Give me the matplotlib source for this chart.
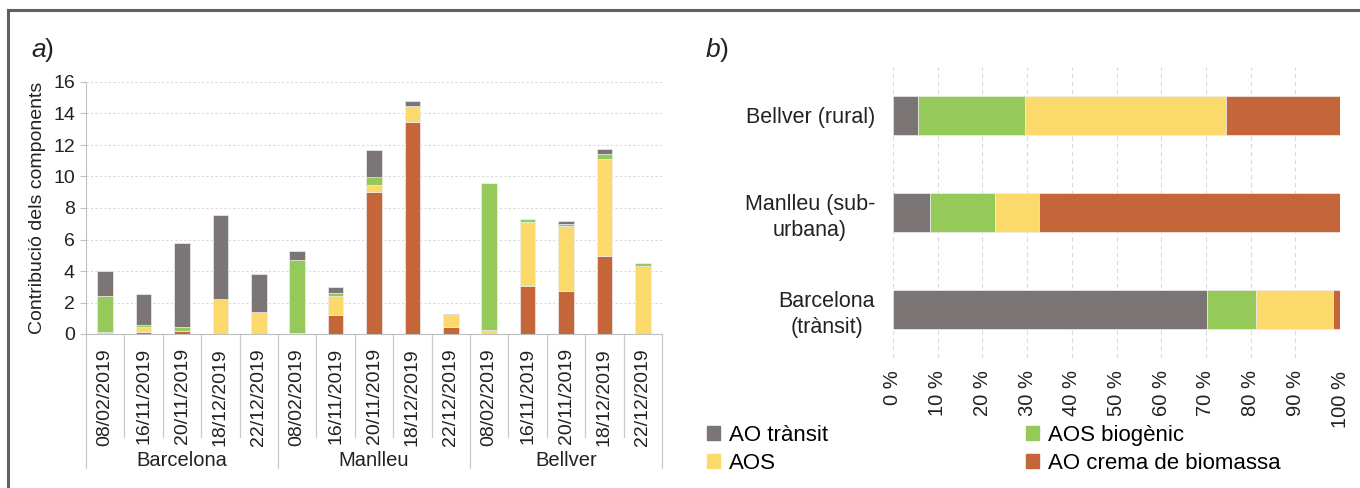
import matplotlib
matplotlib.use("Agg")
import matplotlib.pyplot as plt
from matplotlib.lines import Line2D
from matplotlib.patches import Patch
import numpy as np

plt.rcParams['font.family'] = ['Liberation Sans', 'DejaVu Sans']

# ---- data: panel a (contribution per sample day) ----
sites = ['Barcelona', 'Manlleu', 'Bellver']
dates = ['08/02/2019', '16/11/2019', '20/11/2019', '18/12/2019', '22/12/2019']

ao_crema = [0.00, 0.10, 0.20, 0.00, 0.00,
            0.08, 1.21, 9.00, 13.44, 0.42,
            0.00, 3.06, 2.70, 4.97, 0.03]
aos = [0.12, 0.37, 0.02, 2.25, 1.38,
       0.00, 1.21, 0.47, 1.04, 0.79,
       0.25, 4.07, 4.14, 6.16, 4.30]
aos_biogenic = [2.30, 0.10, 0.20, 0.00, 0.00,
                4.59, 0.17, 0.53, 0.00, 0.00,
                9.35, 0.15, 0.16, 0.27, 0.17]
ao_transit = [1.61, 2.00, 5.35, 5.33, 2.44,
              0.60, 0.38, 1.68, 0.34, 0.04,
              0.00, 0.00, 0.20, 0.32, 0.00]

# ---- data: panel b (mean share per site, %) ----
site_labels_b = ['Barcelona\n(trànsit)', 'Manlleu (sub-\nurbana)', 'Bellver (rural)']
transit_pct = [70.3, 8.3, 5.6]
biogenic_pct = [10.9, 14.6, 23.9]
aos_pct = [17.3, 9.8, 44.9]
crema_pct = [1.5, 67.3, 25.6]

legend_labels = ['AO trànsit', 'AOS', 'AOS biogènic', 'AO crema de biomassa']
c_transit = '#7B7575'
c_biog = '#95C95A'
c_aos = '#FCD96B'
c_crema = '#C5653A'

W, H = 1360, 488
fig = plt.figure(figsize=(W / 100, H / 100), dpi=100)

# outer frame (top and left edges)
fig.add_artist(Line2D([8 / W, 1], [1 - 10 / H, 1 - 10 / H], color='#606060', lw=2.2))
fig.add_artist(Line2D([8 / W, 8 / W], [0, 1 - 10 / H], color='#606060', lw=2.2))

# ================= panel a =================
axl = fig.add_axes([86 / W, 1 - 334 / H, 576 / W, 252 / H])
n = len(ao_crema)
x = np.arange(n)
bw = 0.41
edge = dict(edgecolor='#EDEDED', linewidth=0.5)
bottom = np.zeros(n)
for vals, col in [(ao_crema, c_crema), (aos, c_aos), (aos_biogenic, c_biog), (ao_transit, c_transit)]:
    v = np.array(vals)
    axl.bar(x, v, bw, bottom=bottom, color=col, **edge, zorder=3)
    bottom += v

axl.set_xlim(-0.5, n - 0.5)
axl.set_ylim(0, 16)
axl.set_yticks(np.arange(0, 17, 2))
axl.tick_params(axis='y', labelsize=14, colors='#BFBFBF', labelcolor='#222222', length=4, width=0.8, pad=4)
axl.set_xticks(x)
axl.set_xticklabels(dates * len(sites), rotation=90, fontsize=14, color='#222222')
axl.tick_params(axis='x', length=0, pad=10)
for lbl in axl.get_xticklabels():
    lbl.set_verticalalignment('top')
axl.yaxis.grid(True, linestyle=(0, (2, 2)), color='#DADADA', linewidth=0.8, zorder=0)
for s in ['top', 'right']:
    axl.spines[s].set_visible(False)
axl.spines['left'].set_color('#BFBFBF')
axl.spines['bottom'].set_color('#BFBFBF')
axl.set_ylabel('Contribució dels components', fontsize=14, color='#222222', labelpad=5)

# category separators and site group labels
trans = axl.get_xaxis_transform()
for b in np.arange(-0.5, n, 1.0):
    is_group = abs((b + 0.5) % 5) < 1e-9
    y_end = -0.532 if is_group else -0.41
    axl.add_line(Line2D([b, b], [0, y_end], transform=trans, color='#C8C8C8', lw=0.9, clip_on=False))
for i, s in enumerate(sites):
    axl.text(i * 5 + 2, -0.50, s, transform=trans, ha='center', va='center', fontsize=14.5, color='#222222')

fig.text(31 / W, 1 - 50 / H, 'a', fontsize=19, style='italic', color='#222222', va='center')
fig.text(45 / W, 1 - 50 / H, ')', fontsize=19, color='#222222', va='center')

# ================= panel b =================
axr = fig.add_axes([893 / W, 1 - 358 / H, 447 / W, 291 / H])
yb = np.arange(len(site_labels_b))
left = np.zeros(len(yb))
for vals, col in [(transit_pct, c_transit), (biogenic_pct, c_biog), (aos_pct, c_aos), (crema_pct, c_crema)]:
    v = np.array(vals)
    axr.barh(yb, v, 0.4, left=left, color=col, edgecolor='#EDEDED', linewidth=0.5, zorder=3)
    left += v
axr.set_xlim(0, 100)
axr.set_ylim(-0.5, 2.5)
axr.set_xticks(np.arange(0, 101, 10))
axr.set_xticklabels([f'{t} %' for t in range(0, 101, 10)], rotation=90, fontsize=14.5, color='#222222')
for lbl in axr.get_xticklabels():
    lbl.set_verticalalignment('top')
axr.set_yticks(yb)
axr.set_yticklabels(site_labels_b, fontsize=15.5, color='#222222', multialignment='center',
                    linespacing=1.3)
axr.tick_params(length=0)
axr.tick_params(axis='y', pad=13)
axr.tick_params(axis='x', pad=9)
axr.xaxis.grid(True, linestyle=(0, (4, 3)), color='#DADADA', linewidth=0.8, zorder=0)
for s in axr.spines.values():
    s.set_visible(False)

fig.text(706 / W, 1 - 50 / H, 'b', fontsize=19, style='italic', color='#222222', va='center')
fig.text(720 / W, 1 - 50 / H, ')', fontsize=19, color='#222222', va='center')

# shared legend
handles = [Patch(color=c) for c in [c_transit, c_aos, c_biog, c_crema]]
fig.legend(handles, legend_labels, loc='upper left', bbox_to_anchor=(698 / W, 1 - 416 / H),
           ncol=2, frameon=False, fontsize=16, handlelength=0.6, handleheight=0.6,
           handletextpad=0.4, columnspacing=8.9, labelspacing=0.3, borderaxespad=0)

fig.savefig('out.png', dpi=100)
